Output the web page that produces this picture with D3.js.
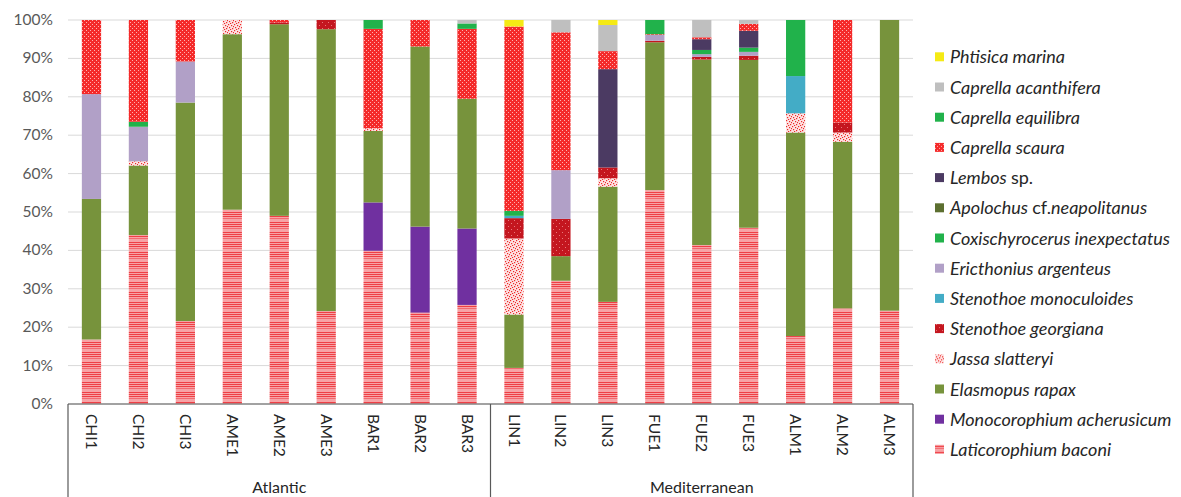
<!DOCTYPE html>
<html>
<head>
<meta charset="utf-8">
<script src="https://d3js.org/d3.v7.min.js"></script>
<style>
	body {margin:0; background:#fff;}
	text {font-family: Lato, "Open Sans", sans-serif;}
</style>
</head>
<body>
<div id="chart"></div>
<script>
// sample sites
var sites = ["CHI1","CHI2","CHI3","AME1","AME2","AME3","BAR1","BAR2","BAR3",
             "LIN1","LIN2","LIN3","FUE1","FUE2","FUE3","ALM1","ALM2","ALM3"];
var regions = ["Atlantic","Mediterranean"];
var yTicks = [0,0.1,0.2,0.3,0.4,0.5,0.6,0.7,0.8,0.9,1];

// percent per species, one value per site (bottom of stack first)
var laticorophium   = [16.8,44.0,21.6,50.6,49.0,24.2,39.9,23.8,25.8, 9.4,32.1,26.6,55.7,41.4,45.9,17.7,24.9,24.3];
var monocorophium   = [0,0,0,0,0,0,12.6,22.4,19.9, 0,0,0,0,0,0,0,0,0];
var elasmopus       = [36.6,18.1,56.9,45.7,49.9,73.4,18.6,46.9,33.8,13.9,6.4,30.0,38.5,48.3,43.7,53.0,43.4,75.7];
var jassa           = [0,1.1,0,3.7,0,0,0.7,0,0, 19.8,0,2.2,0,0,0,5.0,2.4,0];
var georgiana       = [0,0,0,0,0.5,2.4,0,0,0, 5.3,9.7,2.8,0.4,0.7,1.1,0,2.6,0];
var monoculoides    = [0,0,0,0,0,0,0,0,0, 0.6,0,0,0,0,0,9.7,0,0];
var ericthonius     = [27.3,9.0,10.7,0,0,0,0,0,0, 0,12.7,0,1.5,0.7,1.0,0,0,0];
var coxischyrocerus = [0,1.3,0,0,0,0,0,0,0, 1.3,0,0,0,1.1,1.1,0,0,0];
var apolochus       = [0,0,0,0,0,0,0,0,0, 0,0,0,0,0,0,0,0,0];
var lembos          = [0,0,0,0,0,0,0,0,0, 0,0,25.6,0,2.8,4.4,0,0,0];
var scaura          = [19.3,26.5,10.8,0,0.6,0,25.9,6.9,18.2,48.0,35.9,4.7,0.2,0.5,1.8,0,26.7,0];
var equilibra       = [0,0,0,0,0,0,2.3,0,1.4, 0,0,0,3.7,0,0,14.6,0,0];
var acanthifera     = [0,0,0,0,0,0,0,0,0.9, 0,3.2,6.8,0,4.5,1.0,0,0,0];
var phtisica        = [0,0,0,0,0,0,0,0,0, 1.7,0,1.3,0,0,0,0,0,0];

var species = [
	{key:"lat",  name:"Laticorophium baconi",        values:laticorophium,   fill:"url(#pLat)"},
	{key:"mono", name:"Monocorophium acherusicum",   values:monocorophium,   fill:"#7030a0"},
	{key:"ela",  name:"Elasmopus rapax",             values:elasmopus,       fill:"#77933c"},
	{key:"jas",  name:"Jassa slatteryi",             values:jassa,           fill:"url(#pJas)"},
	{key:"geo",  name:"Stenothoe georgiana",         values:georgiana,       fill:"url(#pGeo)"},
	{key:"mon",  name:"Stenothoe monoculoides",      values:monoculoides,    fill:"#43acc6"},
	{key:"eri",  name:"Ericthonius argenteus",       values:ericthonius,     fill:"#b1a0c7"},
	{key:"cox",  name:"Coxischyrocerus inexpectatus",values:coxischyrocerus, fill:"#21b24b"},
	{key:"apo",  name:"Apolochus cf.neapolitanus",   values:apolochus,       fill:"#5c6f30"},
	{key:"lem",  name:"Lembos sp.",                  values:lembos,          fill:"#4b3a62"},
	{key:"sca",  name:"Caprella scaura",             values:scaura,          fill:"url(#pSca)"},
	{key:"equ",  name:"Caprella equilibra",          values:equilibra,       fill:"#21b24b"},
	{key:"aca",  name:"Caprella acanthifera",        values:acanthifera,     fill:"#bfbfbf"},
	{key:"pht",  name:"Phtisica marina",             values:phtisica,        fill:"#f5ea14"}
];

var table = sites.map(function(s,i){
	var row = {site:s};
	species.forEach(function(sp){ row[sp.key] = sp.values[i]; });
	return row;
});

var W = 1181, H = 497;
var mLeft = 68, mRight = 913, mTop = 20, mBottom = 404;

var svg = d3.select("#chart").append("svg").attr("width",W).attr("height",H);
var defs = svg.append("defs");

// Laticorophium: pink with red horizontal stripes
var p1 = defs.append("pattern").attr("id","pLat").attr("patternUnits","userSpaceOnUse")
	.attr("width",6).attr("height",10);
p1.append("rect").attr("width",6).attr("height",10).attr("fill","#f7a3a6");
[2,4,6].forEach(function(yy){
	p1.append("rect").attr("x",0).attr("y",yy).attr("width",6).attr("height",1).attr("fill","#ef3f45");
});
p1.append("rect").attr("x",0).attr("y",8).attr("width",6).attr("height",1).attr("fill","#f26a70");

// Caprella scaura: red with light dots
var p2 = defs.append("pattern").attr("id","pSca").attr("patternUnits","userSpaceOnUse")
	.attr("width",4).attr("height",4);
p2.append("rect").attr("width",4).attr("height",4).attr("fill","#f42a2a");
p2.append("rect").attr("x",0).attr("y",0).attr("width",1).attr("height",1).attr("fill","#ffb0b0");
p2.append("rect").attr("x",2).attr("y",2).attr("width",1).attr("height",1).attr("fill","#ffb0b0");

// Jassa: white with red speckles
var p3 = defs.append("pattern").attr("id","pJas").attr("patternUnits","userSpaceOnUse")
	.attr("width",6).attr("height",6);
p3.append("rect").attr("width",6).attr("height",6).attr("fill","#fde3e3");
[[0,0],[3,1],[1,3],[4,4],[5,2],[2,5]].forEach(function(d){
	p3.append("rect").attr("x",d[0]).attr("y",d[1]).attr("width",1.2).attr("height",1.2).attr("fill","#ee2a2a");
});

// Stenothoe georgiana: dark red with few light dots
var p4 = defs.append("pattern").attr("id","pGeo").attr("patternUnits","userSpaceOnUse")
	.attr("width",6).attr("height",6);
p4.append("rect").attr("width",6).attr("height",6).attr("fill","#c4161f");
p4.append("rect").attr("x",1).attr("y",1).attr("width",1).attr("height",1).attr("fill","#e8777a");
p4.append("rect").attr("x",4).attr("y",4).attr("width",1).attr("height",1).attr("fill","#e8777a");

var x = d3.scaleBand().domain(sites).range([mLeft,mRight]).paddingInner(0.59).paddingOuter(0.295);
var y = d3.scaleLinear().domain([0,1]).range([mBottom,mTop]);

// gridlines
svg.append("g").selectAll("line").data(yTicks).enter().append("line")
	.attr("x1",mLeft).attr("x2",mRight)
	.attr("y1",function(d){return y(d);}).attr("y2",function(d){return y(d);})
	.attr("stroke","#d9d9d9").attr("stroke-width",1);

// y labels
svg.append("g").selectAll("text").data(yTicks).enter().append("text")
	.attr("x",53).attr("y",function(d){return y(d)+5;})
	.attr("text-anchor","end").attr("font-size",15.5).attr("fill","#595959")
	.text(d3.format(".0%"));

var stack = d3.stack().keys(species.map(function(s){return s.key;})).offset(d3.stackOffsetExpand);
var series = stack(table);

svg.append("g").selectAll("g").data(series).enter().append("g")
	.attr("fill",function(d,i){return species[i].fill;})
	.selectAll("rect").data(function(d){return d;}).enter().append("rect")
	.attr("x",function(d){return x(d.data.site);})
	.attr("width",x.bandwidth())
	.attr("y",function(d){return y(d[1]);})
	.attr("height",function(d){return y(d[0]) - y(d[1]);});

// category axis
var ax = svg.append("g").attr("stroke","#595959").attr("stroke-width",1.2);
ax.append("line").attr("x1",mLeft).attr("x2",mRight).attr("y1",mBottom).attr("y2",mBottom);
var midSep = (x("BAR3") + x("LIN1") + x.bandwidth())/2;
[mLeft, midSep, mRight].forEach(function(xv){
	ax.append("line").attr("x1",xv).attr("x2",xv).attr("y1",mBottom).attr("y2",H);
});

svg.append("g").selectAll("text").data(sites).enter().append("text")
	.attr("transform",function(d){return "translate("+(x(d)+x.bandwidth()/2)+",414) rotate(90)";})
	.attr("dy","0.35em")
	.attr("font-size",15.5).attr("fill","#262626")
	.text(function(d){return d;});

svg.append("g").selectAll("text").data(regions).enter().append("text")
	.attr("x",function(d,i){
		var a = i==0 ? x("CHI1") : x("LIN1");
		var b = i==0 ? x("BAR3") : x("ALM3");
		return (a+b+x.bandwidth())/2;})
	.attr("y",493).attr("text-anchor","middle")
	.attr("font-size",16).attr("fill","#262626")
	.text(function(d){return d;});

// legend, top species first
var legend = svg.append("g").selectAll("g").data(species.slice().reverse()).enter().append("g")
	.attr("transform",function(d,i){return "translate(935,"+(57.3+i*30.2)+")";});
legend.append("rect").attr("x",0).attr("y",-5).attr("width",9).attr("height",9)
	.attr("fill",function(d){return d.fill;});
legend.append("text").attr("x",15).attr("y",6)
	.attr("font-size",18).attr("fill","#262626").attr("font-style","italic")
	.each(function(d){
		var t = d3.select(this);
		if (d.key=="lem") {
			t.append("tspan").text("Lembos ");
			t.append("tspan").attr("font-style","normal").text("sp.");
		} else if (d.key=="apo") {
			t.append("tspan").text("Apolochus ");
			t.append("tspan").attr("font-style","normal").text("cf.");
			t.append("tspan").text("neapolitanus");
		} else {
			t.text(d.name);
		}
	});
</script>
</body>
</html>
